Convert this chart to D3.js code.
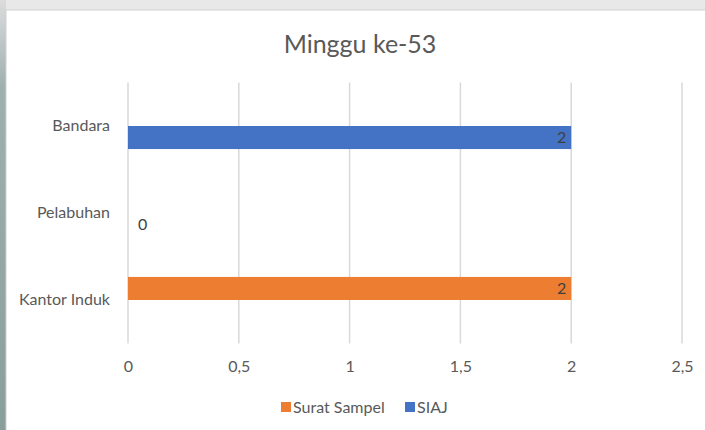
<!DOCTYPE html>
<html>
<head>
<meta charset="utf-8">
<script src="https://cdn.jsdelivr.net/npm/d3@7"></script>
<style>
  body { margin: 0; background: #e9e9e9; }
  svg { display: block; font-family: Lato, "Open Sans", sans-serif; }
</style>
</head>
<body>
<div id="chart"></div>
<script>
const categories = ["Bandara", "Pelabuhan", "Kantor Induk"];
const seriesNames = ["Surat Sampel", "SIAJ"];
const suratSampel = [null, null, 2];
const siaj = [2, 0, null];
const xTicks = [0, 0.5, 1, 1.5, 2, 2.5];
const colors = { "Surat Sampel": "#ED7D31", "SIAJ": "#4472C4" };

const width = 705, height = 430;
const svg = d3.select("#chart").append("svg")
    .attr("width", width)
    .attr("height", height);

// slide background behind the chart
const grad = svg.append("defs").append("linearGradient")
    .attr("id", "side").attr("x1", 0).attr("y1", 0).attr("x2", 0).attr("y2", 1);
grad.append("stop").attr("offset", "0%").attr("stop-color", "#dcdcdc");
grad.append("stop").attr("offset", "20%").attr("stop-color", "#9fb1af");
grad.append("stop").attr("offset", "100%").attr("stop-color", "#8a9e9c");
svg.append("rect").attr("width", width).attr("height", height).attr("fill", "#e8e8e8");
svg.append("rect").attr("width", 6).attr("height", height).attr("fill", "url(#side)");
svg.append("rect")
    .attr("x", 6).attr("y", 10)
    .attr("width", width - 5).attr("height", height - 9)
    .attr("fill", "#fff")
    .attr("stroke", "#d0d0d0");

// title
svg.append("text")
    .attr("x", 360)
    .attr("y", 53)
    .attr("text-anchor", "middle")
    .attr("fill", "#595959")
    .style("font-size", "25px")
    .text("Minggu ke-53");

// scales
const x = d3.scaleLinear().domain([0, 2.5]).range([128, 682]);
const y = d3.scaleBand().domain(categories).range([82.5, 343.5]);
const bw = y.bandwidth();
const ySeries = d3.scaleBand().domain(seriesNames).range([bw * 0.235, bw * 0.765]);

// gridlines
svg.append("g")
    .selectAll("line")
    .data(xTicks)
    .join("line")
    .attr("x1", d => x(d)).attr("x2", d => x(d))
    .attr("y1", 82.5).attr("y2", 343.5)
    .attr("stroke", "#d9d9d9")
    .attr("stroke-width", 1.5);

// x axis labels
const xAxis = svg.append("g")
    .attr("transform", "translate(0,343.5)")
    .call(d3.axisBottom(x).tickValues(xTicks).tickSize(0).tickPadding(17)
        .tickFormat(d => String(d).replace(".", ",")));
xAxis.select(".domain").remove();
xAxis.selectAll("text")
    .attr("fill", "#595959")
    .style("font-size", "16px")
    .style("font-family", "Lato, sans-serif");

// y axis labels
const yAxis = svg.append("g")
    .attr("transform", "translate(128,0)")
    .call(d3.axisLeft(y).tickSize(0).tickPadding(18));
yAxis.select(".domain").remove();
yAxis.selectAll("text")
    .attr("fill", "#595959")
    .style("font-size", "16px")
    .style("font-family", "Lato, sans-serif");

// bars
const rows = [];
categories.forEach((c, i) => {
    rows.push({ cat: c, series: "Surat Sampel", value: suratSampel[i] });
    rows.push({ cat: c, series: "SIAJ", value: siaj[i] });
});
const shown = rows.filter(d => d.value !== null);

svg.append("g")
    .selectAll("rect")
    .data(shown.filter(d => d.value > 0))
    .join("rect")
    .attr("x", x(0))
    .attr("y", d => y(d.cat) + ySeries(d.series))
    .attr("width", d => x(d.value) - x(0))
    .attr("height", ySeries.bandwidth())
    .attr("fill", d => colors[d.series]);

// data labels
svg.append("g")
    .selectAll("text")
    .data(shown)
    .join("text")
    .attr("x", d => d.value > 0 ? x(d.value) - 5 : x(0) + 10)
    .attr("y", d => y(d.cat) + ySeries(d.series) + ySeries.bandwidth() / 2)
    .attr("dy", "0.35em")
    .attr("text-anchor", d => d.value > 0 ? "end" : "start")
    .attr("fill", "#404040")
    .style("font-size", "16px")
    .text(d => d.value);

// legend
const legend = svg.append("g");
const legendX = [281, 405];
seriesNames.forEach((s, i) => {
    legend.append("rect")
        .attr("x", legendX[i]).attr("y", 402)
        .attr("width", 10).attr("height", 10)
        .attr("fill", colors[s]);
    legend.append("text")
        .attr("x", legendX[i] + 12).attr("y", 407)
        .attr("dy", "0.35em")
        .attr("fill", "#595959")
        .style("font-size", "16px")
        .text(s);
});
</script>
</body>
</html>
